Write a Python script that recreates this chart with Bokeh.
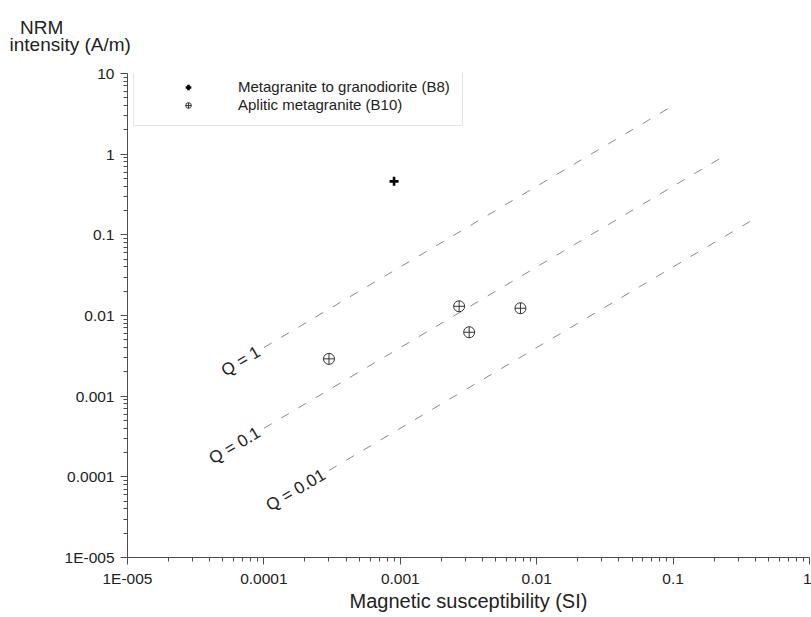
import numpy as np
from bokeh.plotting import figure
from bokeh.models import FixedTicker, Legend, LegendItem, Range1d
from bokeh.embed import file_html
from bokeh.resources import INLINE
from bokeh.core.properties import value

# ---- data ----
b8_k = [0.0009]
b8_nrm = [0.46]

b10_k = [0.0003, 0.0027, 0.0032, 0.0076]
b10_nrm = [0.0029, 0.0130, 0.0062, 0.0123]

# Koenigsberger ratio reference lines (Q = NRM / (k * 40 A/m)), end points
q_labels = ["Q = 1", "Q = 0.1", "Q = 0.01"]
q_line_k = [[1e-4, 0.1], [1e-4, 0.23], [3e-4, 0.4]]
q_line_nrm = [[4e-3, 4.0], [4e-4, 0.92], [1.2e-4, 0.16]]

x_ticks = [1e-5, 1e-4, 1e-3, 1e-2, 1e-1, 1]
x_tick_labels = ["1E-005", "0.0001", "0.001", "0.01", "0.1", "1"]
y_ticks = [1e-5, 1e-4, 1e-3, 1e-2, 1e-1, 1, 10]
y_tick_labels = ["1E-005", "0.0001", "0.001", "0.01", "0.1", "1", "10"]

FONT = "Liberation Sans"

p = figure(width=811, height=617, x_axis_type="log", y_axis_type="log",
           x_range=Range1d(1e-5, 1), y_range=Range1d(1e-5, 10),
           output_backend="svg", toolbar_location=None,
           min_border_left=127, min_border_right=2, min_border_top=73,
           min_border_bottom=60)
p.outline_line_color = None
p.xgrid.visible = False
p.ygrid.visible = False
p.background_fill_color = "white"
p.border_fill_color = "white"

# y-axis title drawn as a two-line title at the top left
p.title.text = "\u00a0\u00a0NRM\nintensity (A/m)"
p.title.align = "left"
p.title.vertical_align = "top"
p.title.offset = -118
p.title.text_font = FONT
p.title.text_font_size = "19px"
p.title.text_font_style = "normal"
p.title.text_color = "#222222"
p.title.text_line_height = 0.8
p.title.standoff = 33

minor = [m * 10.0 ** e for e in range(-5, 1) for m in range(2, 10)]

for ax, ticks, labels, std in ((p.xaxis[0], x_ticks, x_tick_labels, 5),
                               (p.yaxis[0], y_ticks, y_tick_labels, 6)):
    ax.ticker = FixedTicker(ticks=ticks, minor_ticks=minor)
    ax.major_label_overrides = {t: l for t, l in zip(ticks, labels)}
    ax.major_label_text_font = FONT
    ax.major_label_text_font_size = "15.5px"
    ax.major_label_text_color = "#222222"
    ax.major_label_standoff = std
    ax.axis_line_color = "#4d4d4d"
    ax.major_tick_line_color = "#4d4d4d"
    ax.minor_tick_line_color = "#4d4d4d"
    ax.major_tick_out = 7
    ax.major_tick_in = 0
    ax.minor_tick_out = 4
    ax.minor_tick_in = 0

p.xaxis.axis_label = "Magnetic susceptibility (SI)"
p.xaxis.axis_label_text_font = FONT
p.xaxis.axis_label_text_font_size = "20px"
p.xaxis.axis_label_text_font_style = "normal"
p.xaxis.axis_label_text_color = "#222222"
p.xaxis.axis_label_standoff = 0

# Q lines
for ks, ns in zip(q_line_k, q_line_nrm):
    p.line(ks, ns, line_color="#8a8a8a", line_width=1, line_dash="9 11")

ang = float(np.arctan(80.67 / 136.4))
lab_k = [ks[0] * 0.92 for ks in q_line_k]
lab_n = [ns[0] * 0.92 for ns in q_line_nrm]
p.text(x=lab_k, y=lab_n, text=q_labels, angle=ang, text_align="right",
       text_baseline="middle", text_font=value(FONT), text_font_size="17px",
       text_color="#222222")

r10 = p.scatter(b10_k, b10_nrm, marker="circle_cross", size=11,
                fill_color=None, line_color="#333333", line_width=1)
r8 = p.scatter(b8_k, b8_nrm, marker="cross", size=9,
               line_color="black", line_width=2.6)

legend = Legend(items=[LegendItem(label="Metagranite to granodiorite (B8)", renderers=[r8]),
                       LegendItem(label="Aplitic metagranite (B10)", renderers=[r10])],
                location=(6, 431), margin=0, padding=12, spacing=1,
                label_height=14, glyph_height=14, glyph_width=84,
                label_standoff=8, label_text_font=FONT,
                label_text_font_size="15px", label_text_color="#222222",
                border_line_color="#c8c8c8", border_line_width=1.5,
                background_fill_color="white", background_fill_alpha=1)
p.add_layout(legend)

open("out.html", "w").write(file_html(p, INLINE))
